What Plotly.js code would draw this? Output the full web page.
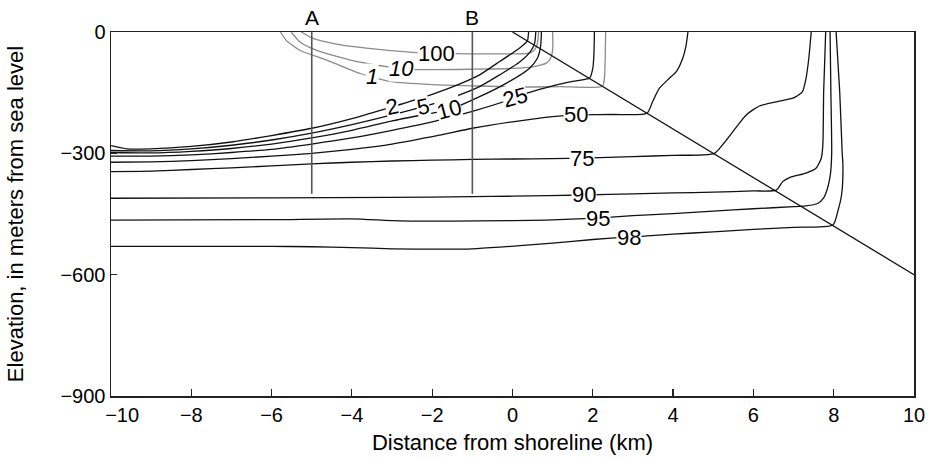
<!DOCTYPE html>
<html>
<head>
<meta charset="utf-8">
<script src="https://cdn.plot.ly/plotly-3.0.1.min.js"></script>
<style>html,body{margin:0;padding:0;background:#fff;}#chart{width:928px;height:459px;}</style>
</head>
<body>
<div id="chart"></div>
<script>
// ---- data (km, m) ----
const xTickVals = [-10, -8, -6, -4, -2, 0, 2, 4, 6, 8, 10];
const xTickText = ["\u00a0\u00a0\u00a0\u00a0\u221210", "\u22128", "\u22126", "\u22124", "\u22122", "0", "2", "4", "6", "8", "10"];
const yTickVals = [0, -300, -600, -900];

const interfaceX = [0, 10];
const interfaceY = [0, -600];

const profileNames = ["A", "B"];
const profileX = [-5, -1];
const profileTop = 0;
const profileBottom = -400;

const c2x = [-10, -9.6, -9, -8, -7, -6, -5, -4, -3, -2, -1.4, -0.82, -0.32, 0.17, 0.37, 0.4];
const c2y = [-281, -289, -289, -283, -272, -256, -238, -214, -185, -154, -132, -106, -73, -40, -22, 0];

const c5x = [-10, -9, -8, -7, -6, -5, -4, -3, -2.2, -1.5, -0.82, -0.32, 0.17, 0.45, 0.55, 0.58];
const c5y = [-293, -294, -289, -280, -267, -250, -229, -205, -184, -162, -135, -106, -75, -48, -28, 0];

const c10x = [-10, -9, -8, -7, -6, -5, -4, -3, -2.2, -1.57, -0.82, -0.16, 0.42, 0.62, 0.7, 0.72];
const c10y = [-298, -299, -295, -288, -277, -262, -243, -220, -204, -192, -160, -127, -90, -65, -35, 0];

const c25x = [-10, -9, -8, -7, -6, -5, -4, -3, -2, -1, -0.03, 0.34, 1, 1.5, 1.92, 2.0, 2.03, 2.04];
const c25y = [-307, -307, -304, -298, -290, -277, -262, -243, -222, -196, -166, -152, -133, -122, -114, -90, -50, 0];

const c50x = [-10, -9, -8, -7, -6, -5, -4, -3, -1.82, -1, 0, 1, 1.59, 2.5, 3.35, 3.49, 3.66, 3.9, 4.08, 4.24, 4.32, 4.37];
const c50y = [-322, -321, -318, -313, -307, -300, -290, -277, -255, -238, -222, -209, -205, -204, -201, -172, -139, -115, -98, -65, -35, 0];

const c75x = [-10, -9, -8, -7, -6, -5, -4, -3, -2, -1, 0, 1, 1.74, 3, 4, 5.03, 5.32, 5.57, 5.82, 6.15, 6.6, 7.0, 7.22, 7.31, 7.38, 7.44];
const c75y = [-345, -344, -340, -336, -331, -326, -322, -319, -317, -315, -314, -313, -312, -308, -305, -300, -268, -236, -205, -183, -172, -163, -148, -115, -65, 0];

const c90x = [-10, -6, -3, -1, 0, 1.79, 3, 4, 5, 6, 6.57, 6.73, 6.9, 7.31, 7.56, 7.69, 7.73, 7.75, 7.8];
const c90y = [-411, -410, -409, -407, -406, -403, -400, -398, -396, -393, -391, -370, -360, -349, -337, -312, -279, -148, 0];

const c95x = [-10, -6, -4, -2.8, -0.8, 0.84, 2.12, 3, 4, 5, 6, 7, 7.3, 7.6, 7.75, 7.85, 7.92, 7.95, 7.93, 7.91];
const c95y = [-465, -464, -462, -467, -467, -465, -460, -454, -449, -443, -437, -432, -430, -424, -410, -385, -350, -300, -150, 0];

const c98x = [-10, -6, -5, -4, -3, -1.74, -1, -0.32, 1, 2, 2.91, 4, 5, 6, 7, 7.98, 8.1, 8.2, 8.23, 8.21, 8.15, 8.06];
const c98y = [-530, -530, -531, -533, -536, -537, -536, -532, -522, -513, -507, -500, -494, -488, -483, -477, -444, -400, -329, -296, -148, 0];

const g100x = [-5.26, -4.97, -4.48, -3.64, -2.4, -1.9, -1, 0, 0.42, 0.55, 0.62, 0.65];
const g100y = [0, -16, -28, -40, -51, -53, -54, -54, -52, -44, -28, 0];

const g10x = [-5.51, -5.3, -4.89, -4.06, -3.06, -2.76, -2.4, -1, 0, 0.5, 0.84, 0.95, 1.0, 1.0];
const g10y = [0, -24, -45, -69, -87, -90, -93, -92, -90, -86, -77, -65, -45, 0];

const g1x = [-5.78, -5.64, -5.3, -4.64, -3.81, -3.51, -3.06, -2, -1, 0.17, 1.17, 2.24, 2.29, 2.31, 2.32];
const g1y = [0, -20, -45, -69, -102, -111, -122, -130, -133, -136, -135, -134, -114, -60, 0];

const blackLabels = ["2", "5", "10", "25", "50", "75", "90", "95", "98"];
const blackLabelX = [-2.99, -2.22, -1.57, 0.05, 1.59, 1.74, 1.79, 2.12, 2.91];
const blackLabelY = [-185, -184, -192, -162, -205, -312, -403, -460, -507];
const blackLabelAngle = [-12, -12, -15, -15, 0, 0, 0, 0, 0];

const grayLabels = ["100", "10", "1"];
const grayLabelX = [-1.89, -2.76, -3.51];
const grayLabelY = [-53, -90, -111];
const grayLabelItalic = [false, true, true];

// ---- drawing ----
const FONT = "Liberation Sans, Arial, Helvetica, sans-serif";
const BLACK = "#111111";
const GRAY = "#8a8a8a";

function line(x, y, color, width, shape) {
  return {x: x, y: y, type: "scatter", mode: "lines", hoverinfo: "skip",
          line: {color: color, width: width, shape: shape || "spline", smoothing: 0.6}};
}

const traces = [];
traces.push(line(g100x, g100y, GRAY, 1.3));
traces.push(line(g10x, g10y, GRAY, 1.3));
traces.push(line(g1x, g1y, GRAY, 1.3));
[[c2x,c2y],[c5x,c5y],[c10x,c10y],[c25x,c25y],[c50x,c50y],[c75x,c75y],[c90x,c90y],[c95x,c95y],[c98x,c98y]]
  .forEach(p => traces.push(line(p[0], p[1], BLACK, 1.3)));
traces.push(line(interfaceX, interfaceY, BLACK, 1.3, "linear"));
profileX.forEach(px => traces.push(line([px, px], [profileTop, profileBottom], "#555555", 1.6, "linear")));

const annotations = [];
blackLabels.forEach((t, i) => annotations.push({
  x: blackLabelX[i], y: blackLabelY[i], xref: "x", yref: "y", text: t, showarrow: false,
  textangle: blackLabelAngle[i], bgcolor: "#ffffff", borderpad: 0,
  font: {family: FONT, size: 22, color: "#000"}
}));
grayLabels.forEach((t, i) => annotations.push({
  x: grayLabelX[i], y: grayLabelY[i], xref: "x", yref: "y",
  text: grayLabelItalic[i] ? "<i>" + t + "</i>" : t, showarrow: false,
  bgcolor: "#ffffff", borderpad: 0,
  font: {family: FONT, size: 22, color: "#000"}
}));
profileNames.forEach((t, i) => annotations.push({
  x: profileX[i], y: profileTop, xref: "x", yref: "y", text: t, showarrow: false,
  yanchor: "bottom", yshift: 1, font: {family: FONT, size: 21, color: "#000"}
}));

const layout = {
  width: 928, height: 459,
  margin: {l: 111, r: 14, t: 32, b: 63},
  paper_bgcolor: "#ffffff", plot_bgcolor: "#ffffff",
  showlegend: false,
  font: {family: FONT, size: 20, color: "#000"},
  xaxis: {
    range: [-10, 10], tickvals: xTickVals, ticktext: xTickText, ticks: "inside", ticklen: 7, tickwidth: 1.2,
    tickcolor: "#222", showline: true, linecolor: "#222", linewidth: 1.5, mirror: true,
    showgrid: false, zeroline: false, tickfont: {family: FONT, size: 20},
    title: {text: "Distance from shoreline (km)", font: {family: FONT, size: 22}, standoff: 10}
  },
  yaxis: {
    range: [-900, 0], tickvals: yTickVals, ticks: "inside", ticklen: 6, tickwidth: 1.2,
    tickcolor: "#222", showline: true, linecolor: "#222", linewidth: 1.5, mirror: true,
    showgrid: false, zeroline: false, tickfont: {family: FONT, size: 20},
    title: {text: "Elevation, in meters from sea level", font: {family: FONT, size: 22}, standoff: 30}
  },
  annotations: annotations
};

Plotly.newPlot("chart", traces, layout, {displayModeBar: false, staticPlot: true});
</script>
</body>
</html>
